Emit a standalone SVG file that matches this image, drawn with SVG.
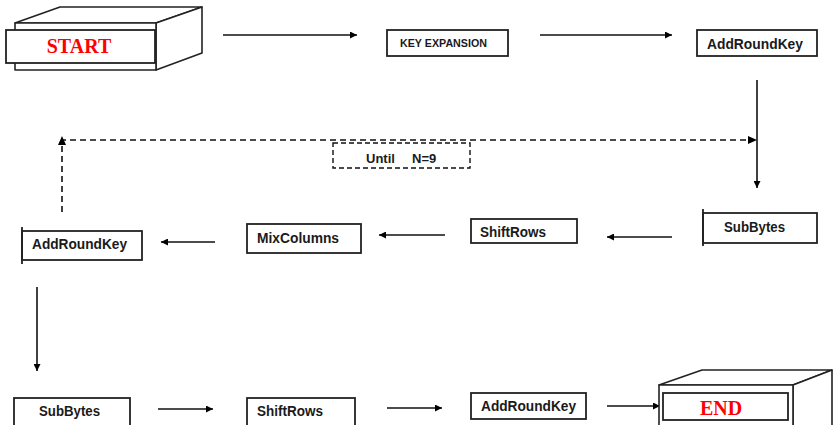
<svg xmlns="http://www.w3.org/2000/svg" width="835" height="425" viewBox="0 0 835 425">
<defs>
<marker id="ah" viewBox="0 0 10 10" refX="10" refY="5" markerWidth="8" markerHeight="7" markerUnits="userSpaceOnUse" orient="auto">
<path d="M0,0 L10,5 L0,10 z" fill="#000"/>
</marker>
<style>
.box{fill:#fff;stroke:#222;stroke-width:1.8}
.b3d{fill:#fff;stroke:#222;stroke-width:1.6;stroke-linejoin:round}
.lbl{font-family:"Liberation Sans",Arial,sans-serif;font-weight:bold;fill:#1a1a1a;font-size:14px}
.big{font-family:"Liberation Serif","Times New Roman",serif;font-weight:bold;fill:#ff0000;font-size:20px;text-anchor:middle}
.arr{fill:none;stroke:#111;stroke-width:1.6;marker-end:url(#ah)}
.dash{fill:none;stroke:#111;stroke-width:1.6;stroke-dasharray:6,4}
</style>
</defs>
<rect width="835" height="425" fill="#fff"/>

<g id="connectors">
<line class="arr" x1="223" y1="35" x2="357" y2="35"/>
<line class="arr" x1="540" y1="35" x2="672" y2="35"/>
<line class="arr" x1="757" y1="80" x2="757" y2="188"/>
<line class="arr" x1="672" y1="237" x2="607" y2="237"/>
<line class="arr" x1="445" y1="235" x2="379" y2="235"/>
<line class="arr" x1="215" y1="242" x2="161" y2="242"/>
<line class="arr" x1="37" y1="287" x2="37" y2="371"/>
<line class="arr" x1="158" y1="409" x2="213" y2="409"/>
<line class="arr" x1="387" y1="408" x2="442" y2="408"/>
<line class="arr" x1="607" y1="406" x2="660" y2="406"/>
<path class="dash" d="M62,212 V140 H750"/>
<path d="M62,136 L58,145 L66,145 z" fill="#000"/>
<path d="M757,140 L748,136 L748,144 z" fill="#000"/>
</g>

<g id="start">
<polygon class="b3d" points="15,23 60,7 202,7 156,23"/>
<polygon class="b3d" points="156,23 202,7 202,53 156,70"/>
<rect class="b3d" x="15" y="23" width="141" height="47"/>
<rect class="box" x="6" y="30" width="149" height="33" stroke-width="2"/>
<text class="big" x="79" y="53">START</text>
</g>

<g id="key-expansion">
<rect class="box" x="387" y="30" width="121" height="26"/>
<text class="lbl" x="400" y="47" style="font-size:10.5px" textLength="87" lengthAdjust="spacingAndGlyphs">KEY EXPANSION</text>
</g>

<g id="addroundkey-1">
<rect class="box" x="697" y="30" width="120" height="26"/>
<text class="lbl" x="707" y="49" textLength="96" lengthAdjust="spacingAndGlyphs">AddRoundKey</text>
</g>

<g id="until">
<rect x="333" y="143" width="137" height="25" fill="#fff" stroke="#111" stroke-width="1.4" stroke-dasharray="5,3"/>
<text class="lbl" y="163" style="font-size:13px"><tspan x="366">Until</tspan><tspan x="412">N=9</tspan></text>
</g>

<g id="subbytes-1">
<rect class="box" x="703" y="213" width="114" height="30"/>
<line x1="703" y1="209" x2="703" y2="246" stroke="#222" stroke-width="1.8"/>
<text class="lbl" x="724" y="232" textLength="61" lengthAdjust="spacingAndGlyphs">SubBytes</text>
</g>

<g id="shiftrows-1">
<rect class="box" x="471" y="219" width="106" height="24"/>
<text class="lbl" x="480" y="237" textLength="66" lengthAdjust="spacingAndGlyphs">ShiftRows</text>
</g>

<g id="mixcolumns">
<rect class="box" x="247" y="224" width="114" height="29"/>
<text class="lbl" x="257" y="243" textLength="82" lengthAdjust="spacingAndGlyphs">MixColumns</text>
</g>

<g id="addroundkey-2">
<rect class="box" x="22" y="231" width="120" height="29"/>
<line x1="22" y1="227" x2="22" y2="264" stroke="#222" stroke-width="1.8"/>
<text class="lbl" x="32" y="249" textLength="95" lengthAdjust="spacingAndGlyphs">AddRoundKey</text>
</g>

<g id="subbytes-2">
<rect class="box" x="14" y="398" width="116" height="30"/>
<text class="lbl" x="39" y="416" textLength="61" lengthAdjust="spacingAndGlyphs">SubBytes</text>
</g>

<g id="shiftrows-2">
<rect class="box" x="247" y="398" width="108" height="30"/>
<text class="lbl" x="257" y="416" textLength="66" lengthAdjust="spacingAndGlyphs">ShiftRows</text>
</g>

<g id="addroundkey-3">
<rect class="box" x="471" y="393" width="115" height="26"/>
<text class="lbl" x="481" y="411" textLength="95" lengthAdjust="spacingAndGlyphs">AddRoundKey</text>
</g>

<g id="end">
<polygon class="b3d" points="659,385 702,370 832,370 793,385"/>
<polygon class="b3d" points="793,385 832,370 832,430 793,430"/>
<rect class="b3d" x="659" y="385" width="134" height="45"/>
<rect class="box" x="663" y="393" width="125" height="27" stroke-width="2"/>
<text class="big" x="721" y="415">END</text>
</g>
</svg>
